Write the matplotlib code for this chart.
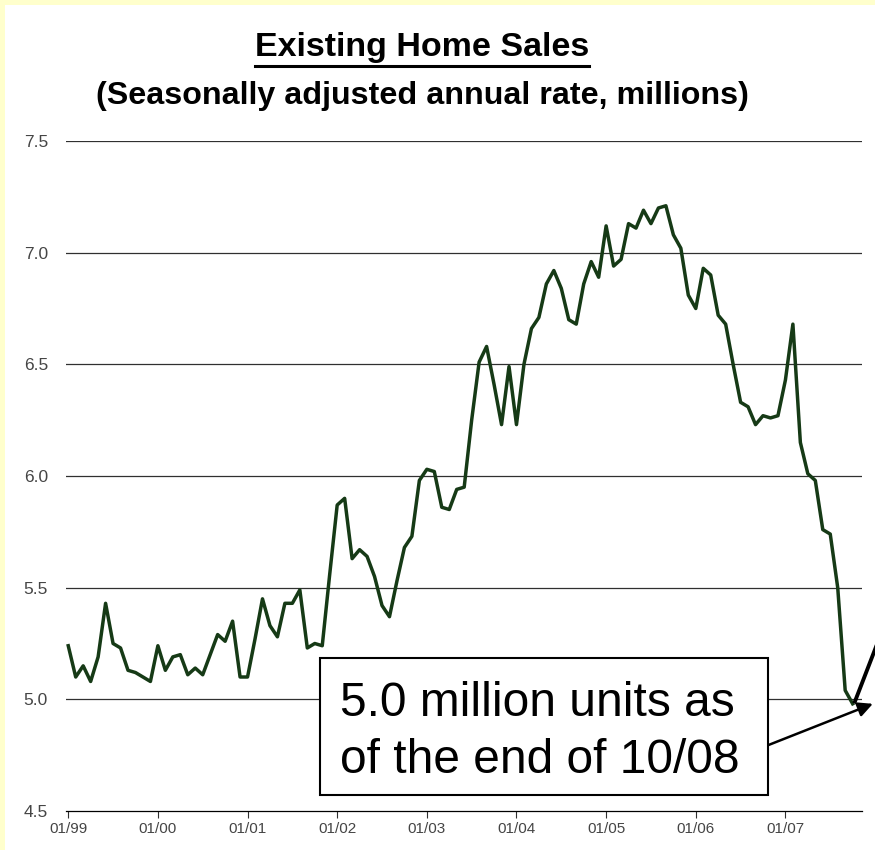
import numpy as np
import matplotlib
matplotlib.use("Agg")
import matplotlib.pyplot as plt
from matplotlib import font_manager
from matplotlib.patches import Rectangle
from matplotlib.lines import Line2D

# existing home sales, seasonally adjusted annual rate (millions), monthly from 01/99
sales = [
    5.24, 5.10, 5.15, 5.08, 5.19, 5.43, 5.25, 5.23, 5.13, 5.12, 5.10, 5.08,
    5.24, 5.13, 5.19, 5.20, 5.11, 5.14, 5.11, 5.20, 5.29, 5.26, 5.35, 5.10,
    5.10, 5.27, 5.45, 5.33, 5.28, 5.43, 5.43, 5.49, 5.23, 5.25, 5.24, 5.56,
    5.87, 5.90, 5.63, 5.67, 5.64, 5.55, 5.42, 5.37, 5.53, 5.68, 5.73, 5.98,
    6.03, 6.02, 5.86, 5.85, 5.94, 5.95, 6.25, 6.51, 6.58, 6.41, 6.23, 6.49,
    6.23, 6.50, 6.66, 6.71, 6.86, 6.92, 6.84, 6.70, 6.68, 6.86, 6.96, 6.89,
    7.12, 6.94, 6.97, 7.13, 7.11, 7.19, 7.13, 7.20, 7.21, 7.08, 7.02, 6.81,
    6.75, 6.93, 6.90, 6.72, 6.68, 6.50, 6.33, 6.31, 6.23, 6.27, 6.26, 6.27,
    6.43, 6.68, 6.15, 6.01, 5.98, 5.76, 5.74, 5.50, 5.04, 4.98,
]
year_labels = ["01/99", "01/00", "01/01", "01/02", "01/03",
               "01/04", "01/05", "01/06", "01/07"]
y_ticks = [4.5, 5.0, 5.5, 6.0, 6.5, 7.0, 7.5]
y_labels = ["4.5", "5.0", "5.5", "6.0", "6.5", "7.0", "7.5"]
note_lines = ["5.0 million units as", "of the end of 10/08"]

LINE_GREEN = "#163a16"
GREY_TEXT = "#454545"


def pick_font():
    #condensed face if it is around, plain one otherwise
    names = {f.name for f in font_manager.fontManager.ttflist}
    if "Liberation Sans Narrow" in names:
        return "Liberation Sans Narrow", 1.0 / 0.82
    return "Liberation Sans", 1.0


def draw_chart(fig, ax, narrow, k):
    months = np.arange(len(sales))
    ax.plot(months, sales, color=LINE_GREEN, lw=2.5, solid_joinstyle="round")

    ax.set_xlim(-0.3, len(sales) + 0.25)
    ax.set_ylim(4.5, 7.5)

    #horizontal rules, the 4.5 one is the x axis itself
    for v in y_ticks[1:]:
        ax.axhline(v, color="#303030", lw=0.9, zorder=0)
    for side in ["left", "right", "top"]:
        ax.spines[side].set_visible(False)
    ax.spines["bottom"].set_color("black")
    ax.spines["bottom"].set_linewidth(0.9)

    ax.set_yticks(y_ticks)
    ax.set_yticklabels(y_labels, fontsize=12.5, color=GREY_TEXT,
                       family="Liberation Sans")
    ax.tick_params(axis="y", length=0, pad=13)

    ax.set_xticks(np.arange(len(year_labels)) * 12)
    ax.set_xticklabels(year_labels, fontsize=11 * k, color=GREY_TEXT,
                       family=narrow)
    ax.tick_params(axis="x", length=5, width=0.8, color="#303030",
                   direction="out", pad=3)


def draw_note(fig, ax, narrow, k):
    #boxed note under the curve
    ax.add_patch(Rectangle((0.319, 0.024), 0.563, 0.204, transform=ax.transAxes,
                           facecolor="white", edgecolor="black", lw=1.5,
                           zorder=5))
    ax.text(0.344, 0.160, note_lines[0], transform=ax.transAxes, ha="left",
            va="center", fontsize=34.5 * k, family=narrow, zorder=6)
    ax.text(0.344, 0.075, note_lines[1], transform=ax.transAxes, ha="left",
            va="center", fontsize=34.5 * k, family=narrow, zorder=6)

    last = len(sales) - 1
    ax.annotate("", xy=(last + 2.7, sales[-1]), xytext=(93.7, 4.795),
                arrowprops=dict(arrowstyle="-|>", color="black", lw=1.8,
                                mutation_scale=22, shrinkA=0, shrinkB=0),
                annotation_clip=False, zorder=7)
    ax.plot([last + 0.3, last + 3.3], [sales[-1] + 0.01, 5.25], color="black",
            lw=2.8, clip_on=False, zorder=7)


def draw_titles(fig, narrow, k):
    title = fig.text(0.482, 0.944, "Existing Home Sales", ha="center",
                     va="center", fontsize=24.5 * k, fontweight="bold",
                     family=narrow)
    fig.text(0.483, 0.887, "(Seasonally adjusted annual rate, millions)",
             ha="center", va="center", fontsize=23.2 * k, fontweight="bold",
             family=narrow)

    #underline the title from its rendered extent
    fig.canvas.draw()
    bb = title.get_window_extent().transformed(fig.transFigure.inverted())
    y = bb.y0 - 0.003
    fig.add_artist(Line2D([bb.x0, bb.x1], [y, y], color="black", lw=2.2,
                          transform=fig.transFigure))


def main():
    narrow, k = pick_font()
    fig = plt.figure(figsize=(8.75, 8.5), dpi=100)
    fig.patch.set_facecolor("white")

    #pale yellow slide edge on the left and top
    fig.patches.append(Rectangle((0, 0), 5 / 875, 1, transform=fig.transFigure,
                                 facecolor="#ffffcc", edgecolor="none"))
    fig.patches.append(Rectangle((0, 1 - 5 / 850), 1, 5 / 850,
                                 transform=fig.transFigure,
                                 facecolor="#ffffcc", edgecolor="none"))

    ax = fig.add_axes([66 / 875, 39 / 850, 796 / 875, 670 / 850])
    ax.set_facecolor("white")

    draw_chart(fig, ax, narrow, k)
    draw_note(fig, ax, narrow, k)
    draw_titles(fig, narrow, k)

    fig.savefig("out.png", dpi=100)


if __name__ == '__main__':
    main()
